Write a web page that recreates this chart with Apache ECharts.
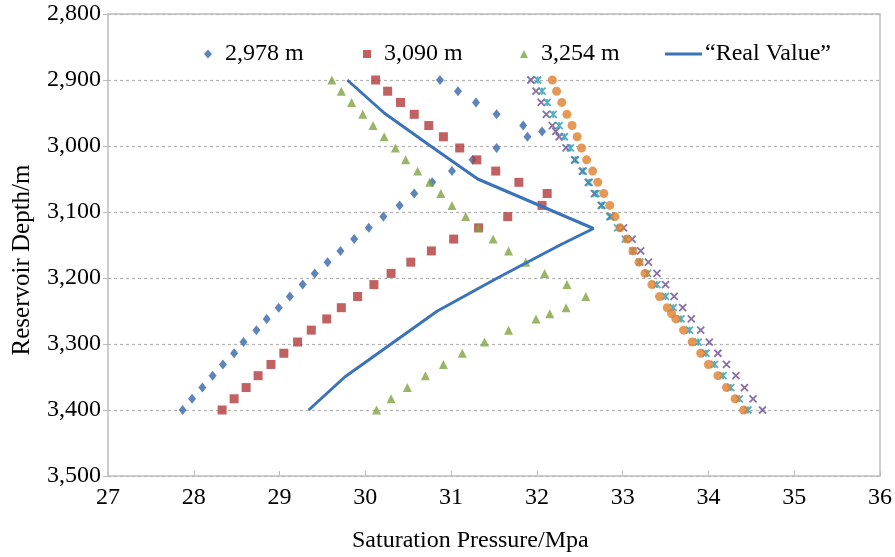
<!DOCTYPE html>
<html>
<head>
<meta charset="utf-8">
<title>Saturation pressure vs reservoir depth</title>
<script src="https://cdn.jsdelivr.net/npm/echarts@6/dist/echarts.min.js"></script>
<style>
  html, body { margin: 0; padding: 0; background: #fff; }
  #main { width: 895px; height: 557px; }
</style>
</head>
<body>
<div id="main"></div>
<script>
// depth levels shared by most of the series (m)
const depthLevels = [2900, 2917, 2934, 2952, 2969, 2986, 3003, 3021, 3038, 3055,
  3072, 3090, 3107, 3124, 3141, 3159, 3176, 3193, 3210, 3228,
  3245, 3262, 3279, 3297, 3314, 3331, 3348, 3366, 3383, 3400];
// same levels with the 2,978 m sample depth added
const depthWith2978 = [2900, 2917, 2934, 2952, 2969, 2978, 2986, 3003, 3021, 3038, 3055,
  3072, 3090, 3107, 3124, 3141, 3159, 3176, 3193, 3210, 3228,
  3245, 3262, 3279, 3297, 3314, 3331, 3348, 3366, 3383, 3400];
// same levels with the 3,254 m sample depth added
const depthWith3254 = [2900, 2917, 2934, 2952, 2969, 2986, 3003, 3021, 3038, 3055,
  3072, 3090, 3107, 3124, 3141, 3159, 3176, 3193, 3210, 3228,
  3245, 3254, 3262, 3279, 3297, 3314, 3331, 3348, 3366, 3383, 3400];

// saturation pressure (MPa)
const p2978 = [30.87, 31.08, 31.29, 31.53, 31.84, 32.06, 31.89, 31.53, 31.25, 31.01, 30.78,
  30.57, 30.40, 30.21, 30.04, 29.87, 29.71, 29.56, 29.41, 29.27, 29.12,
  28.99, 28.85, 28.73, 28.58, 28.47, 28.34, 28.22, 28.10, 27.98, 27.87];
const p3090 = [30.12, 30.26, 30.41, 30.57, 30.74, 30.91, 31.10, 31.30, 31.52, 31.79,
  32.12, 32.06, 31.66, 31.32, 31.03, 30.77, 30.53, 30.30, 30.10, 29.91,
  29.72, 29.55, 29.37, 29.21, 29.05, 28.90, 28.75, 28.61, 28.47, 28.33];
const p3254 = [29.61, 29.72, 29.84, 29.97, 30.09, 30.22, 30.35, 30.47, 30.61, 30.75,
  30.88, 31.01, 31.17, 31.32, 31.49, 31.67, 31.87, 32.09, 32.35, 32.57,
  32.34, 32.15, 31.99, 31.67, 31.39, 31.13, 30.91, 30.70, 30.49, 30.30, 30.13];
// unlabeled series on the right
const pPurple = [31.93, 31.99, 32.05, 32.11, 32.18, 32.22, 32.26, 32.34, 32.44, 32.53, 32.60,
  32.67, 32.75, 32.86, 33.01, 33.11, 33.21, 33.30, 33.40, 33.50, 33.60,
  33.70, 33.80, 33.91, 34.01, 34.11, 34.21, 34.32, 34.42, 34.52, 34.63];
const pTeal = [32.01, 32.06, 32.12, 32.19, 32.26, 32.32, 32.39, 32.45, 32.54, 32.61,
  32.69, 32.76, 32.85, 32.94, 33.03, 33.12, 33.20, 33.29, 33.40, 33.50,
  33.59, 33.68, 33.78, 33.88, 33.97, 34.07, 34.17, 34.26, 34.36, 34.46];
const pOrange = [32.18, 32.23, 32.29, 32.35, 32.41, 32.47, 32.52, 32.58, 32.65, 32.71,
  32.78, 32.85, 32.91, 32.97, 33.05, 33.12, 33.19, 33.26, 33.34, 33.43,
  33.52, 33.57, 33.62, 33.71, 33.81, 33.91, 34.00, 34.11, 34.21, 34.31, 34.41];

// "Real Value" line
const realDepth = [2900, 2950, 3000, 3050, 3125, 3150, 3200, 3250, 3300, 3350, 3400];
const realP = [29.79, 30.22, 30.76, 31.31, 32.66, 32.27, 31.54, 30.84, 30.30, 29.76, 29.34];

const xTicks = [27, 28, 29, 30, 31, 32, 33, 34, 35, 36];

const FONT = "'Liberation Serif', 'Times New Roman', serif";

function pairs(px, depth) {
  return px.map((v, i) => [v, depth[i]]);
}

const crossPath = 'path://M0,0L10,10M10,0L0,10';
const starPath = 'path://M0,0L10,10M10,0L0,10M5,0L5,10';

const myChart = echarts.init(document.getElementById('main'));

function legendItem(name, left, extra) {
  return Object.assign({
    data: [name],
    left: left,
    top: 37,
    itemGap: 0,
    selectedMode: false,
    textStyle: { fontFamily: FONT, fontSize: 24, color: '#000', padding: [0, 0, 0, 8] }
  }, extra || {});
}

const option = {
  animation: false,
  backgroundColor: '#fff',
  grid: { left: 108, right: 11, top: 14, bottom: 81 },
  legend: [
    legendItem('2,978 m', 199, { itemWidth: 8, itemHeight: 9 }),
    legendItem('3,090 m', 358, { itemWidth: 8, itemHeight: 8 }),
    legendItem('3,254 m', 515, { itemWidth: 8, itemHeight: 8 }),
    legendItem('\u201cReal Value\u201d', 660, {
      itemWidth: 37, itemHeight: 3, icon: 'rect',
      textStyle: { fontFamily: FONT, fontSize: 24, color: '#000', padding: [0, 0, 0, -2] }
    })
  ],
  xAxis: [{
    type: 'value',
    min: xTicks[0],
    max: xTicks[xTicks.length - 1],
    interval: 1,
    axisLine: { show: true, lineStyle: { color: '#bdbdbd', width: 1.5 } },
    axisTick: { show: true, inside: true, length: 5, lineStyle: { color: '#bdbdbd' } },
    axisLabel: { fontFamily: FONT, fontSize: 24, color: '#000', margin: 10 },
    splitLine: { show: false }
  }, {
    type: 'value',
    position: 'top',
    min: xTicks[0],
    max: xTicks[xTicks.length - 1],
    axisLine: { show: true, onZero: false, lineStyle: { color: '#bdbdbd', width: 1.5 } },
    axisTick: { show: false },
    axisLabel: { show: false },
    splitLine: { show: false }
  }],
  yAxis: [{
    type: 'value',
    inverse: true,
    min: 2800,
    max: 3500,
    interval: 100,
    axisLine: { show: true, lineStyle: { color: '#bdbdbd', width: 1.5 } },
    axisTick: { show: true, length: 5, lineStyle: { color: '#bdbdbd' } },
    axisLabel: {
      fontFamily: FONT, fontSize: 24, color: '#000', margin: 7,
      formatter: v => v.toLocaleString('en-US')
    },
    splitLine: { show: true, lineStyle: { color: '#b4b4b4', type: [3, 3], width: 1.2 } }
  }, {
    type: 'value',
    inverse: true,
    position: 'right',
    min: 2800,
    max: 3500,
    axisLine: { show: true, lineStyle: { color: '#bdbdbd', width: 1.5 } },
    axisTick: { show: false },
    axisLabel: { show: false },
    splitLine: { show: false }
  }],
  graphic: [{
    type: 'text',
    left: 352,
    top: 529,
    style: { text: 'Saturation Pressure/Mpa', font: '24px ' + FONT, fill: '#000' }
  }, {
    // y axis title, rotated
    type: 'text',
    x: 22,
    y: 260,
    rotation: Math.PI / 2,
    style: {
      text: 'Reservoir Depth/m', font: '25px ' + FONT, fill: '#000',
      align: 'center', verticalAlign: 'middle'
    }
  }],
  series: [{
    name: '2,978 m',
    type: 'scatter',
    symbol: 'diamond',
    symbolSize: [8, 10],
    itemStyle: { color: '#3566aa' },
    data: pairs(p2978, depthWith2978)
  }, {
    name: '3,090 m',
    type: 'scatter',
    symbol: 'rect',
    symbolSize: 9,
    itemStyle: { color: '#b23a3a' },
    data: pairs(p3090, depthLevels)
  }, {
    name: '3,254 m',
    type: 'scatter',
    symbol: 'triangle',
    symbolSize: 9,
    itemStyle: { color: '#7fa33e' },
    data: pairs(p3254, depthWith3254)
  }, {
    name: 'purple',
    type: 'scatter',
    symbol: crossPath,
    symbolSize: 7,
    itemStyle: { color: 'rgba(0,0,0,0)', borderColor: '#6a4c94', borderWidth: 1.8 },
    data: pairs(pPurple, depthWith2978)
  }, {
    name: 'teal',
    type: 'scatter',
    symbol: starPath,
    symbolSize: 7,
    itemStyle: { color: 'rgba(0,0,0,0)', borderColor: '#2d9ab3', borderWidth: 1.8 },
    data: pairs(pTeal, depthLevels)
  }, {
    name: 'orange',
    type: 'scatter',
    symbol: 'circle',
    symbolSize: 9,
    itemStyle: { color: '#e07f2c' },
    data: pairs(pOrange, depthWith3254)
  }, {
    name: '\u201cReal Value\u201d',
    type: 'line',
    showSymbol: false,
    symbol: 'none',
    itemStyle: { color: '#3b73b9' },
    lineStyle: { color: '#3b73b9', width: 3 },
    data: pairs(realP, realDepth)
  }]
};

myChart.setOption(option);

window.addEventListener('resize', () => {
  myChart.resize();
});
</script>
</body>
</html>
